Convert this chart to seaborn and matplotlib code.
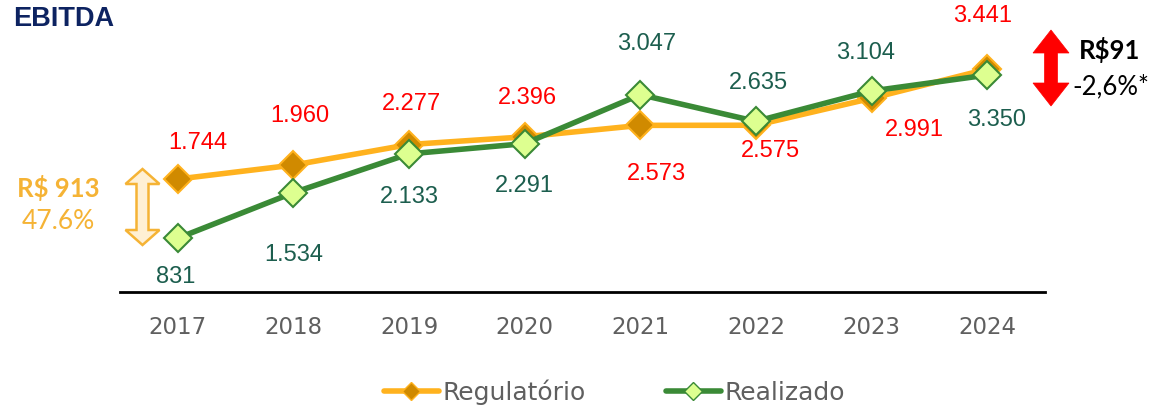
import numpy as np
import pandas as pd
import seaborn as sns
import matplotlib.pyplot as plt
from matplotlib.patches import Polygon
from matplotlib.lines import Line2D

# ---- data ----
years = [2017, 2018, 2019, 2020, 2021, 2022, 2023, 2024]
regulatorio = [1744, 1960, 2277, 2396, 2573, 2575, 2991, 3441]
realizado = [831, 1534, 2133, 2291, 3047, 2635, 3104, 3350]
series_names = ["Regulatório", "Realizado"]

# ---- label placement (pixels: dx, dy up-positive) ----
reg_offsets = [(20, 36), (6, 49), (2, 41), (3, 39), (16, -49), (15, -26), (43, -32), (-5, 53)]
rea_offsets = [(-2, -39), (0, -62), (0, -43), (0, -42), (6, 51), (3, 38), (-6, 38), (9, -45)]

ORANGE = "#FFB21E"
ORANGE_FACE = "#D08A00"
GREEN = "#3A8A36"
GREEN_FACE = "#DDFF90"
RED = "#FF0000"
TEAL = "#1C5E4E"
GRAY = "#5F5F5F"
NAVY = "#0D2361"
LBL_ORANGE = "#F5B335"

sns.set_theme(style="white")
plt.rcParams["font.family"] = ["Liberation Sans", "DejaVu Sans"]

W, H, DPI = 1155, 411, 100
fig = plt.figure(figsize=(W / DPI, H / DPI), dpi=DPI)
ax = fig.add_axes([120 / W, 1 - 292 / H, (1045 - 120) / W, (292 - 20) / H])

df_reg = pd.DataFrame({"ano": years, "valor": regulatorio})
df_rea = pd.DataFrame({"ano": years, "valor": realizado})

sns.lineplot(data=df_reg, x="ano", y="valor", ax=ax, color=ORANGE, lw=4,
             marker="D", markersize=14, markerfacecolor=ORANGE_FACE,
             markeredgecolor=ORANGE, markeredgewidth=1.5)
sns.lineplot(data=df_rea, x="ano", y="valor", ax=ax, color=GREEN, lw=4,
             marker="D", markersize=14, markerfacecolor=GREEN_FACE,
             markeredgecolor=GREEN, markeredgewidth=1.5)

def fmt(v):
    return f"{v:,}".replace(",", ".")

px2pt = 72 / DPI
for x, v, (dx, dy) in zip(years, regulatorio, reg_offsets):
    ax.annotate(fmt(v), (x, v), xytext=(dx * px2pt, dy * px2pt), textcoords="offset points",
                ha="center", va="center", color=RED, fontsize=17)
for x, v, (dx, dy) in zip(years, realizado, rea_offsets):
    ax.annotate(fmt(v), (x, v), xytext=(dx * px2pt, dy * px2pt), textcoords="offset points",
                ha="center", va="center", color=TEAL, fontsize=17)

ax.set_xlim(2016.5, 2024.5)
ax.set_ylim(0, 4200)
ax.set_xticks(years)
ax.set_xticklabels([str(y) for y in years], color=GRAY, fontsize=16.5, family=["DejaVu Sans"])
ax.tick_params(axis="x", length=0, pad=17)
ax.set_yticks([])
ax.set_xlabel("")
ax.set_ylabel("")
for s in ["top", "left", "right"]:
    ax.spines[s].set_visible(False)
ax.spines["bottom"].set_color("black")
ax.spines["bottom"].set_linewidth(2)
ax.patch.set_alpha(0)

# ---- title ----
fig.text(13 / W, 1 - 19 / H, "EBITDA", color=NAVY, fontsize=19.5, fontweight="bold",
         ha="left", va="center", family=["Liberation Sans", "DejaVu Sans"])

# ---- double arrows (figure pixel coords) ----
def double_arrow(cx, top, bottom, head_w, shaft_w, head_len, fc, ec, lw):
    pts = [
        (cx, top), (cx + head_w / 2, top + head_len), (cx + shaft_w / 2, top + head_len),
        (cx + shaft_w / 2, bottom - head_len), (cx + head_w / 2, bottom - head_len), (cx, bottom),
        (cx - head_w / 2, bottom - head_len), (cx - shaft_w / 2, bottom - head_len),
        (cx - shaft_w / 2, top + head_len), (cx - head_w / 2, top + head_len),
    ]
    pts = [(x / W, 1 - y / H) for x, y in pts]
    fig.patches.append(Polygon(pts, closed=True, transform=fig.transFigure,
                               facecolor=fc, edgecolor=ec, lw=lw, joinstyle="miter"))

double_arrow(142.5, 169, 245, 34, 12, 15, "#FFF0D4", LBL_ORANGE, 1.8)
double_arrow(1051, 30, 106, 36, 13, 23, RED, RED, 0.5)

fig.text(58 / W, 1 - 188 / H, "R$ 913", color=LBL_ORANGE, fontsize=18.5, fontweight="bold",
         ha="center", va="center", family=["Lato", "DejaVu Sans"])
fig.text(58 / W, 1 - 221 / H, "47.6%", color=LBL_ORANGE, fontsize=19,
         ha="center", va="center", family=["Lato", "DejaVu Sans"])
fig.text(1110 / W, 1 - 50 / H, "R$91", color="black", fontsize=18.5, fontweight="bold",
         ha="center", va="center", family=["Lato", "DejaVu Sans"])
fig.text(1111 / W, 1 - 87 / H, "-2,6%*", color="black", fontsize=18.5,
         ha="center", va="center", family=["Lato", "DejaVu Sans"])

# ---- legend ----
handles = [
    Line2D([], [], color=ORANGE, lw=4, marker="D", markersize=9,
           markerfacecolor=ORANGE_FACE, markeredgecolor=ORANGE),
    Line2D([], [], color=GREEN, lw=4, marker="D", markersize=9,
           markerfacecolor=GREEN_FACE, markeredgecolor=GREEN),
]
leg = fig.legend(handles, series_names, loc="center", bbox_to_anchor=(0.532, 1 - 392 / H),
                 ncol=2, frameon=False, handlelength=2.2, handletextpad=0.15,
                 columnspacing=3.2, prop={"family": ["DejaVu Sans"], "size": 18})
for t in leg.get_texts():
    t.set_color(GRAY)

fig.savefig("out.png", dpi=DPI)
